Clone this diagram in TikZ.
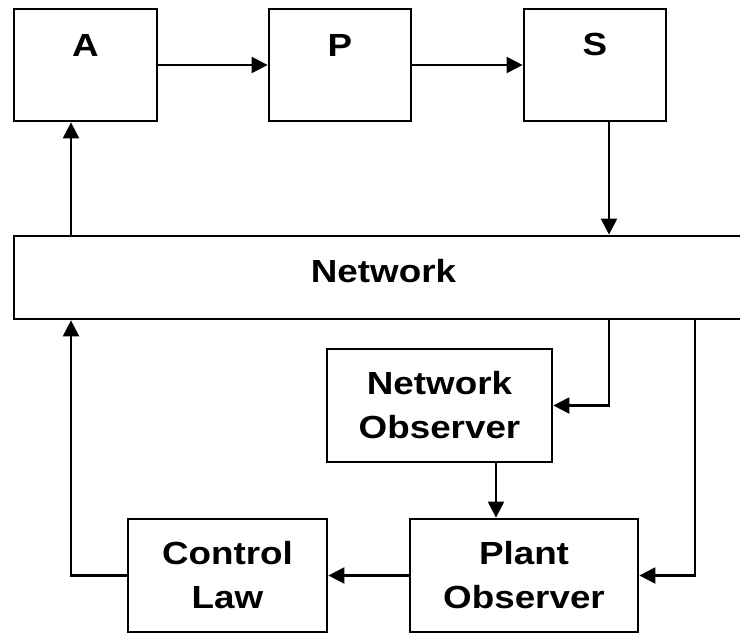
\documentclass[tikz,border=0pt]{standalone}
\usepackage{fontspec}
\newfontfamily\labfont{Liberation Sans}[FakeStretch=1.15]
\usetikzlibrary{arrows.meta}
\begin{document}
\begin{tikzpicture}[x=1pt,y=-1pt,
  txt/.style={font=\labfont\bfseries\fontsize{32}{44}\selectfont, align=center, inner sep=0pt},
  box/.style={draw, line width=2.8pt, rectangle, inner sep=0pt, txt},
  arr/.style={line width=2.4pt, -{Triangle[length=16pt,width=16pt]}}]
\useasboundingbox (0,0) rectangle (740,634);
\clip (0,0) rectangle (740,634);
\fill[white] (0,0) rectangle (740,634);

\node[box, minimum width=143pt, minimum height=112pt, label={[txt,yshift=20pt]center:A}] (A) at (85.5,65) {};
\node[box, minimum width=142pt, minimum height=112pt, label={[txt,yshift=20pt]center:P}] (P) at (340,65) {};
\node[box, minimum width=142pt, minimum height=112pt, label={[txt,yshift=21pt]center:S}] (S) at (595,65) {};
\node[box, minimum width=739pt, minimum height=83pt, label={[txt,yshift=6pt]center:Network}] (Net) at (383.5,277.5) {};
\node[box, minimum width=225pt, minimum height=113pt] (NO) at (439.5,405.5) {Network\\Observer};
\node[box, minimum width=199pt, minimum height=113pt] (CL) at (227.5,575.5) {Control\\Law};
\node[box, minimum width=228pt, minimum height=113pt] (PO) at (524,575.5) {Plant\\Observer};

\coordinate (xl) at (71,0);
\coordinate (xs) at (609,0);
\coordinate (xr) at (695,0);
\coordinate (xm) at (496,0);

\draw[arr] (A) -- (P);
\draw[arr] (P) -- (S);
\draw[arr] (xs |- S.south) -- (xs |- Net.north);
\draw[arr] (xl |- Net.north) -- (xl |- A.south);
\draw[arr] (xs |- Net.south) |- (NO.east);
\draw[arr] (xr |- Net.south) |- (PO.east);
\draw[arr] (xm |- NO.south) -- (xm |- PO.north);
\draw[arr] (PO.west) -- (CL.east);
\draw[arr] (CL.west) -| (xl |- Net.south);
\end{tikzpicture}
\end{document}
